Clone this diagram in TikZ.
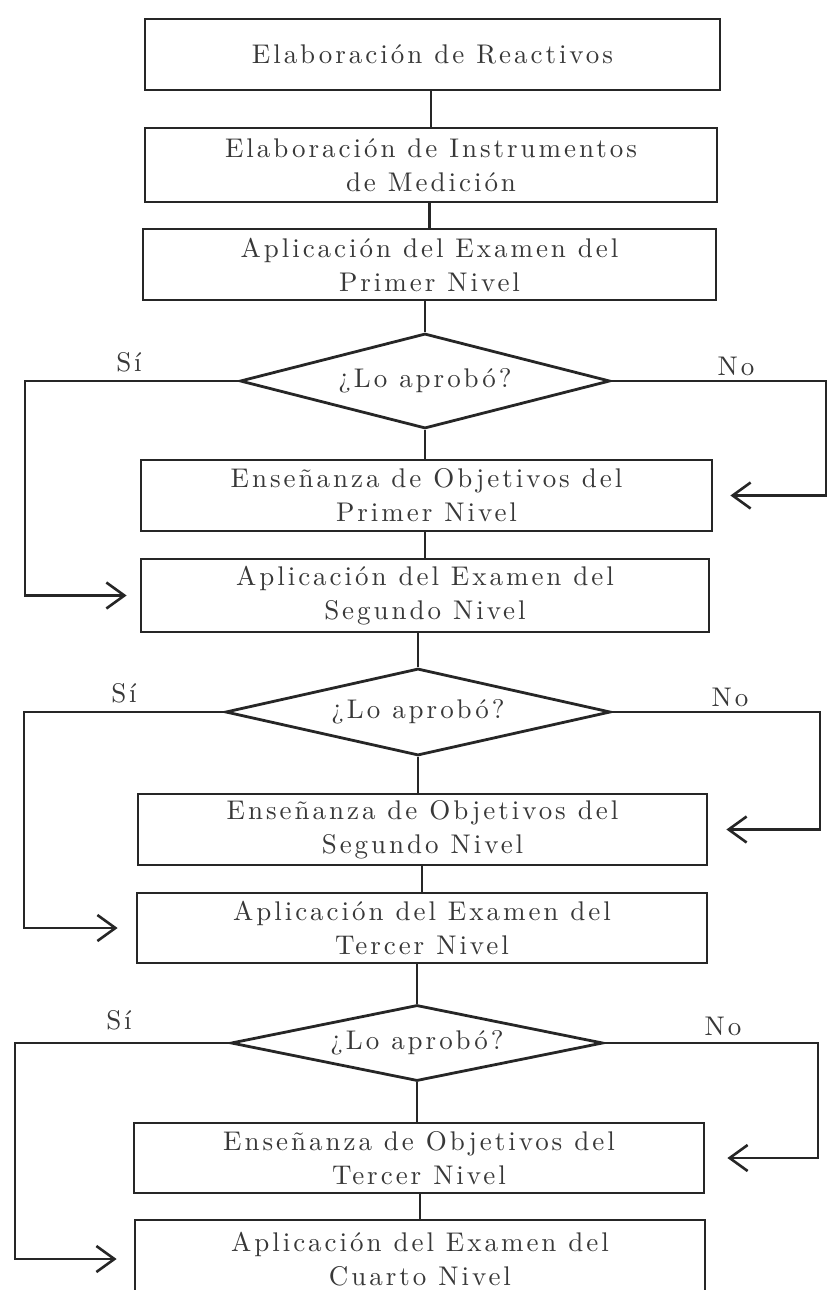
\documentclass[tikz,border=0pt]{standalone}
\usepackage{fontspec}
\usetikzlibrary{shapes.geometric,arrows.meta}
\definecolor{ink}{gray}{0.15}
\definecolor{inktext}{gray}{0.22}
\newfontfamily\twfont{lmroman10-regular.otf}[LetterSpace=11]
\newcommand{\tf}{\twfont\fontsize{13.5}{17}\selectfont}
\begin{document}
\begin{tikzpicture}[x=0.5pt,y=-0.5pt,
  box/.style={draw=ink,line width=1.4pt,rectangle,inner sep=0pt,align=center,font=\tf,text=inktext},
  dec/.style={draw=ink,line width=1.4pt,diamond,aspect=4,inner sep=0pt,font=\tf,text=inktext},
  link/.style={draw=ink,line width=1.3pt},
  arr/.style={link,-{Straight Barb[length=9pt,width=13pt,line width=1.3pt]}},
  lab/.style={font=\tf,text=inktext}]
\useasboundingbox (0,0) rectangle (827,1290);
\clip (0,0) rectangle (827,1290);
\fill[white] (0,0) rectangle (827,1290);

\node[box,minimum width=287.5pt,minimum height=35.5pt] (b1) at (432.5,54.5) {Elaboración de Reactivos};
\node[box,minimum width=286pt,minimum height=37pt] (b2) at (431,165) {Elaboración de Instrumentos\\de Medición};
\node[box,minimum width=286.5pt,minimum height=35.5pt] (b3) at (429.5,264.5) {Aplicación del Examen del\\Primer Nivel};
\node[dec,minimum width=185pt,minimum height=47.5pt] (d1) at (425,381) {¿Lo aprobó?};
\node[box,minimum width=285.5pt,minimum height=35.5pt] (b4) at (426.5,495.5) {Enseñanza de Objetivos del\\Primer Nivel};
\node[box,minimum width=284pt,minimum height=36.5pt] (b5) at (425,595.5) {Aplicación del Examen del\\Segundo Nivel};
\node[dec,minimum width=192.5pt,minimum height=43.5pt] (d2) at (418,712) {¿Lo aprobó?};
\node[box,minimum width=284.5pt,minimum height=35.5pt] (b6) at (422.5,829.5) {Enseñanza de Objetivos del\\Segundo Nivel};
\node[box,minimum width=285pt,minimum height=35pt] (b7) at (422,928) {Aplicación del Examen del\\Tercer Nivel};
\node[dec,minimum width=186pt,minimum height=38pt] (d3) at (417,1043) {¿Lo aprobó?};
\node[box,minimum width=285pt,minimum height=35pt] (b8) at (419,1158) {Enseñanza de Objetivos del\\Tercer Nivel};
\node[box,minimum width=285pt,minimum height=39pt] (b9) at (420,1259) {Aplicación del Examen del\\Cuarto Nivel};

\node[lab] (s1) at (129,362) {Sí};
\node[lab] (s2) at (124,693) {Sí};
\node[lab] (s3) at (119,1020) {Sí};
\node[lab] (n1) at (736,366) {No};
\node[lab] (n2) at (730,697) {No};
\node[lab] (n3) at (723,1026) {No};

\coordinate (L1) at (25,381);
\coordinate (L2) at (24,712);
\coordinate (L3) at (15,1043);
\coordinate (R1) at (826,381);
\coordinate (R2) at (820,712);
\coordinate (R3) at (818,1043);

\draw[link] (b2.north) -- (b2.north |- b1.south);
\draw[link] (b3.north) -- (b3.north |- b2.south);
\draw[link] (d1.north) -- (d1.north |- b3.south);
\draw[link] (d1.south) -- (d1.south |- b4.north);
\draw[link] (b5.north) -- (b5.north |- b4.south);
\draw[link] (d2.north) -- (d2.north |- b5.south);
\draw[link] (d2.south) -- (d2.south |- b6.north);
\draw[link] (b7.north) -- (b7.north |- b6.south);
\draw[link] (d3.north) -- (d3.north |- b7.south);
\draw[link] (d3.south) -- (d3.south |- b8.north);
\draw[link] (b9.north) -- (b9.north |- b8.south);

\draw[arr,shorten >=6.5pt] (d1.west) -- (L1) |- (b5.west);
\draw[arr,shorten >=9pt] (d2.west) -- (L2) |- (b7.west);
\draw[arr,shorten >=8.5pt] (d3.west) -- (L3) |- (b9.west);
\draw[arr,shorten >=8.5pt] (d1.east) -- (R1) |- (b4.east);
\draw[arr,shorten >=9pt] (d2.east) -- (R2) |- (b6.east);
\draw[arr,shorten >=11pt] (d3.east) -- (R3) |- (b8.east);
\end{tikzpicture}
\end{document}
